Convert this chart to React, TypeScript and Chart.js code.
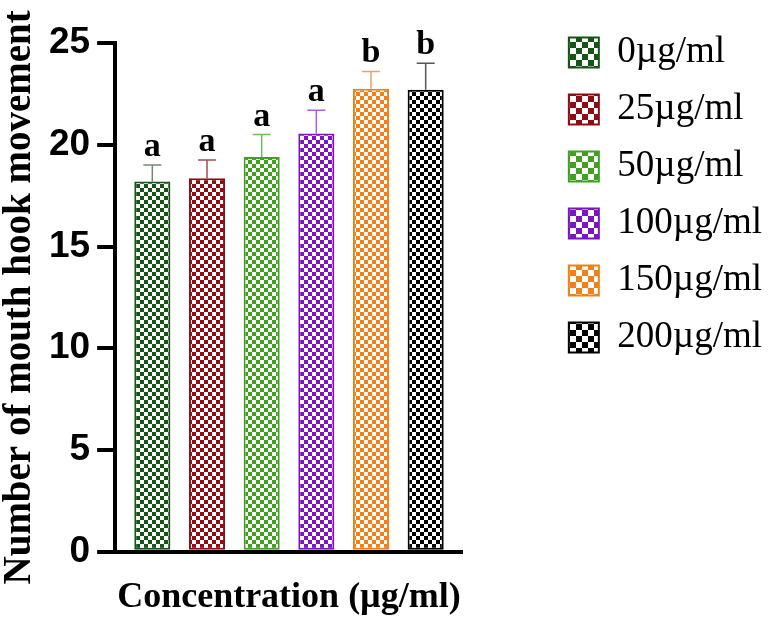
import React, { useEffect, useRef } from 'react';
import { Chart, registerables } from 'chart.js';

Chart.register(...registerables);

const concentrations = ['0µg/ml', '25µg/ml', '50µg/ml', '100µg/ml', '150µg/ml', '200µg/ml'];
const barPositions = [0, 1, 2, 3, 4, 5];
const meanValues = [18.2, 18.35, 19.4, 20.55, 22.75, 22.7];
const errorValues = [0.8, 0.9, 1.1, 1.15, 0.85, 1.3];
const groupLetters = ['a', 'a', 'a', 'a', 'b', 'b'];
const yTickValues = [0, 5, 10, 15, 20, 25];
const yAxisTitle = 'Number of mouth hook movement';
const xAxisTitle = 'Concentration (µg/ml)';

const barColors = ['#155515', '#8e0c14', '#42a020', '#7d14c2', '#f28018', '#000000'];
const errorColors = ['#6f8c6f', '#a8484e', '#72b860', '#a660d8', '#f2a060', '#555555'];

function makePattern(ctx: CanvasRenderingContext2D, color: string, cell: number) {
  const c = document.createElement('canvas');
  c.width = cell * 2;
  c.height = cell * 2;
  const g = c.getContext('2d')!;
  g.fillStyle = '#ffffff';
  g.fillRect(0, 0, cell * 2, cell * 2);
  g.fillStyle = color;
  g.fillRect(0, 0, cell, cell);
  g.fillRect(cell, cell, cell, cell);
  return ctx.createPattern(c, 'repeat')!;
}

const errorBarPlugin = {
  id: 'errorBarsAndLetters',
  afterDatasetsDraw(chart: any) {
    const ctx = chart.ctx as CanvasRenderingContext2D;
    const yScale = chart.scales.y;
    chart.data.datasets.forEach((_ds: any, i: number) => {
      const meta = chart.getDatasetMeta(i);
      const bar = meta.data[0];
      if (!bar) return;
      const x = bar.x;
      const yTop = bar.y;
      const yErr = yScale.getPixelForValue(meanValues[i] + errorValues[i]);
      ctx.save();
      ctx.strokeStyle = errorColors[i];
      ctx.lineWidth = 1.5;
      ctx.beginPath();
      ctx.moveTo(x, yTop);
      ctx.lineTo(x, yErr);
      ctx.moveTo(x - 9, yErr);
      ctx.lineTo(x + 9, yErr);
      ctx.stroke();
      ctx.fillStyle = '#000000';
      ctx.font = 'bold 34px "Liberation Serif"';
      ctx.textAlign = 'center';
      ctx.textBaseline = 'alphabetic';
      ctx.fillText(groupLetters[i], x, yErr - 9);
      ctx.restore();
    });
  },
};

export default function App() {
  const canvasRef = useRef<HTMLCanvasElement | null>(null);

  useEffect(() => {
    const canvas = canvasRef.current;
    if (!canvas) return;
    const ctx = canvas.getContext('2d')!;
    const barPatterns = barColors.map((c) => makePattern(ctx, c, 4));
    const legendPatterns = barColors.map((c) => makePattern(ctx, c, 6));

    const datasets = concentrations.map((label, i) => ({
      label,
      data: [{ x: barPositions[i], y: meanValues[i] }],
      backgroundColor: barPatterns[i],
      borderColor: barColors[i],
      borderWidth: 2,
      borderSkipped: false,
      categoryPercentage: 0.66,
      barPercentage: 1,
      grouped: false,
    }));

    const chart = new Chart(ctx, {
      type: 'bar',
      data: { datasets: datasets as any },
      options: {
        animation: false,
        responsive: false,
        layout: { padding: { top: 14, right: 4, bottom: 2, left: 0 } },
        scales: {
          x: {
            type: 'linear',
            offset: false,
            min: -0.68,
            max: 5.68,
            grid: { display: false },
            ticks: { display: false },
            border: { display: true, width: 4, color: '#000000' },
            title: {
              display: true,
              text: xAxisTitle,
              color: '#000000',
              font: { family: '"Liberation Serif"', size: 36, weight: 'bold', lineHeight: 1.2 },
              padding: { top: 16, bottom: 0 },
            },
          },
          y: {
            min: 0,
            max: 25,
            afterBuildTicks: (scale: any) => {
              scale.ticks = yTickValues.map((v) => ({ value: v }));
            },
            grid: {
              display: true,
              drawOnChartArea: false,
              drawTicks: true,
              tickLength: 18,
              lineWidth: 4,
              color: '#000000',
            },
            border: { display: true, width: 4, color: '#000000' },
            ticks: {
              color: '#000000',
              padding: 7,
              font: { family: '"Liberation Sans"', size: 37, weight: 'bold' },
            },
            title: {
              display: true,
              text: yAxisTitle,
              color: '#000000',
              font: { family: '"Liberation Serif"', size: 39, weight: 'bold', lineHeight: 1 },
              padding: { top: 0, bottom: 3 },
            },
          },
          gap: {
            type: 'linear',
            position: 'right',
            display: true,
            grid: { display: false },
            ticks: { display: false },
            border: { display: false },
            afterFit: (scale: any) => {
              scale.width = 86;
            },
          },
        } as any,
        plugins: {
          title: {
            display: true,
            text: ' ',
            font: { size: 10, lineHeight: 1.2 },
            padding: { top: 0, bottom: 17 },
          },
          tooltip: { enabled: false },
          legend: {
            display: true,
            position: 'right',
            align: 'start',
            maxWidth: 400,
            labels: {
              boxWidth: 30,
              boxHeight: 30,
              padding: 20,
              color: '#000000',
              font: { family: '"Liberation Serif"', size: 37 },
              generateLabels: (ch: any) => {
                const items = Chart.defaults.plugins.legend.labels.generateLabels(ch);
                return items.map((it: any, i: number) => ({
                  ...it,
                  fillStyle: legendPatterns[i],
                  strokeStyle: barColors[i],
                  lineWidth: 2,
                }));
              },
            },
          },
        },
      } as any,
      plugins: [errorBarPlugin],
    });

    return () => {
      chart.destroy();
    };
  }, []);

  return (
    <div style={{ position: 'absolute', left: 0, top: 0, width: 776, height: 621, background: '#ffffff' }}>
      <canvas ref={canvasRef} width={776} height={621} style={{ display: 'block' }} />
    </div>
  );
}
